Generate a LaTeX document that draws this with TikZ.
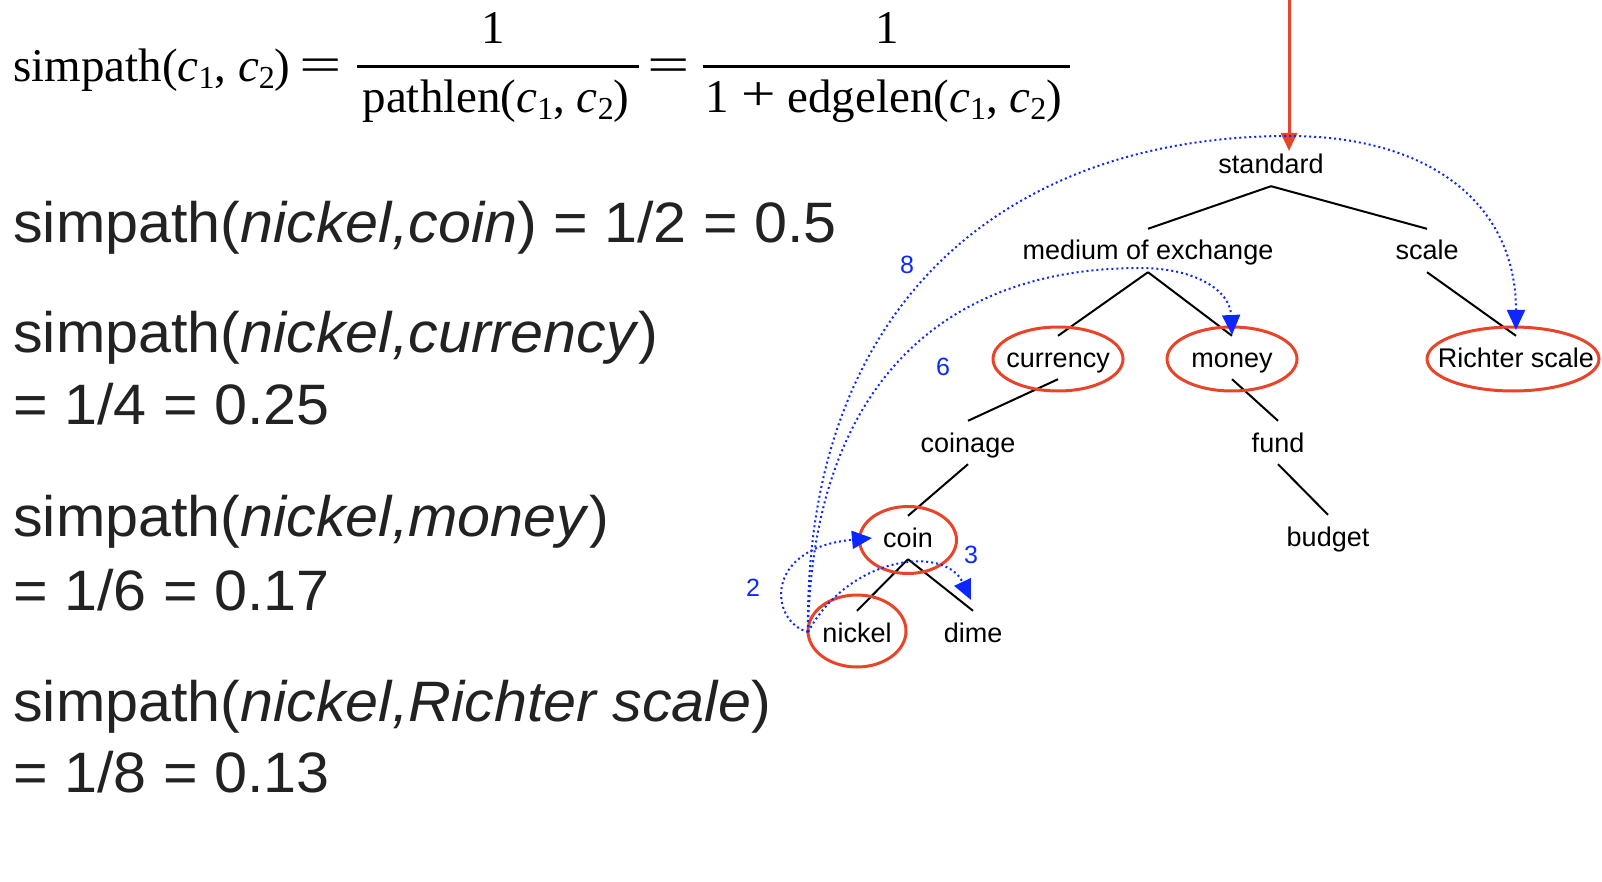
\documentclass[tikz,border=0pt]{standalone}
\usepackage{fontspec}
\setmainfont{Liberation Sans}
\newfontfamily\timesfont{Liberation Serif}
\newfontfamily\widesans[FakeStretch=1.04]{Liberation Sans}
\usetikzlibrary{arrows.meta,shapes.geometric}
\definecolor{ringred}{RGB}{233,67,42}
\definecolor{pathblue}{RGB}{12,40,255}
\definecolor{bodygray}{RGB}{34,34,34}
% italic c with a lowered index
\newcommand\csub[1]{\textit{c}\raisebox{-7pt}{\fontsize{32}{32}\selectfont #1}}
% broad relation and operator signs for the formula
\newcommand\releq{\scalebox{1.6}[1.05]{=}}
\newcommand\opplus{\raisebox{2pt}{\scalebox{1.3}[1.05]{+}}}

\begin{document}
\begin{tikzpicture}[x=1pt,y=-1pt,
  concept/.style={font=\fontsize{27}{31}\selectfont, anchor=base, inner sep=0pt,
                  text height=31pt, text depth=12pt},
  ring/.style={ellipse, draw=ringred, line width=3pt, inner sep=0pt},
  edge/.style={line width=2pt, black},
  hop/.style={pathblue, line width=2pt, dash pattern=on 2pt off 3pt,
              -{Triangle[length=20pt,width=18pt]}},
  hopcount/.style={pathblue, font=\fontsize{25}{30}\selectfont, inner sep=0pt},
  result/.style={font=\widesans\fontsize{57}{66}\selectfont, text=bodygray,
                 anchor=base west, inner sep=0pt},
  formula/.style={font=\timesfont\fontsize{47}{56}\selectfont, inner sep=0pt, anchor=base},
  fracbar/.style={line width=3pt},
  pointer/.style={ringred, line width=3pt, -{Triangle[length=18pt,width=16pt]}}
]
\useasboundingbox (0,0) rectangle (1602,882);

% ---- general definition ----
\node[formula, anchor=base west] (lhs) at (13,82) {simpath(\csub{1}, \csub{2})};
\node[formula] (eqA) at (321,82) {\releq};
\node[formula] (numA) at (493,44) {1};
\node[formula] (denA) at (496,113) {pathlen(\csub{1}, \csub{2})};
\coordinate (barAl) at (357,67);
\coordinate (barAr) at (639,67);
\draw[fracbar] (barAl) -- (barAr);
\node[formula] (eqB) at (669,82) {\releq};
\node[formula] (numB) at (887,44) {1};
\node[formula] (denB) at (884,113) {1 \opplus\ edgelen(\csub{1}, \csub{2})};
\coordinate (barBl) at (703,67);
\coordinate (barBr) at (1070,67);
\draw[fracbar] (barBl) -- (barBr);

% ---- worked examples ----
\node[result] (r1)  at (13,243) {simpath(\textit{nickel,coin}) = 1/2 = 0.5};
\node[result] (r2)  at (13,352) {simpath(\textit{nickel,currency})};
\node[result] (r2v) at (13,424) {= 1/4 = 0.25};
\node[result] (r3)  at (13,536) {simpath(\textit{nickel,money})};
\node[result] (r3v) at (13,610) {= 1/6 = 0.17};
\node[result] (r4)  at (13,721) {simpath(\textit{nickel,Richter scale})};
\node[result] (r4v) at (13,792) {= 1/8 = 0.13};

% ---- hierarchy ----
\node[concept] (standard) at (1271,174) {standard};
\node[concept] (medium)   at (1148,260) {medium of exchange};
\node[concept] (scale)    at (1427,260) {scale};
\node[concept] (currency) at (1058,367) {currency};
\node[concept] (money)    at (1232,367) {money};
\node[concept] (richter)  at (1516,367) {Richter scale};
\node[concept] (coinage)  at (968,452)  {coinage};
\node[concept] (fund)     at (1278,452) {fund};
\node[concept] (coin)     at (908,547)  {coin};
\node[concept] (budget)   at (1328,546) {budget};
\node[concept] (nickel)   at (857,642)  {nickel};
\node[concept] (dime)     at (973,642)  {dime};

\foreach \p/\c in {standard/medium, standard/scale, medium/currency, medium/money,
                   scale/richter, currency/coinage, money/fund, coinage/coin,
                   fund/budget, coin/nickel, coin/dime}
  \draw[edge] (\p.south) -- (\c.north);

% rings round the compared concepts
\node[ring, minimum width=130pt, minimum height=64pt] (ringCurrency) at (1058,359) {};
\node[ring, minimum width=130pt, minimum height=64pt] (ringMoney)    at (1232,359) {};
\node[ring, minimum width=172pt, minimum height=64pt] (ringRichter)  at (1513,359) {};
\node[ring, minimum width=97pt,  minimum height=67pt] (ringCoin)     at (908,540)  {};
\node[ring, minimum width=98pt,  minimum height=72pt] (ringNickel)   at (857,631)  {};

% entry pointer
\coordinate (pointerTop) at (1289,0);
\coordinate (pointerTip) at (1289,151);
\draw[pointer] (pointerTop) -- (pointerTip);

% ---- path lengths from nickel ----
\coordinate (src)        at (808,632);
\coordinate (tipCoin)    at (872,538);
\coordinate (tipDime)    at (971,600);
\coordinate (tipMoney)   at (1232,335);
\coordinate (tipRichter) at (1516,330);
\coordinate (topMoney)   at (1140,268);
\coordinate (topRichter) at (1289,136);

\draw[hop] (src) .. controls (770,622) and (762,548) .. (tipCoin);
\draw[hop] (src) .. controls (850,555) and (945,545) .. (tipDime);
\draw[hop] (src) .. controls (812,400) and (930,268) .. (topMoney)
                 .. controls (1195,268) and (1230,290) .. (tipMoney);
\draw[hop] (src) .. controls (804,300) and (1010,136) .. (topRichter)
                 .. controls (1430,136) and (1516,204) .. (tipRichter);

\node[hopcount] (n8) at (907,265) {8};
\node[hopcount] (n6) at (943,367) {6};
\node[hopcount] (n2) at (753,588) {2};
\node[hopcount] (n3) at (971,555) {3};
\end{tikzpicture}
\end{document}
